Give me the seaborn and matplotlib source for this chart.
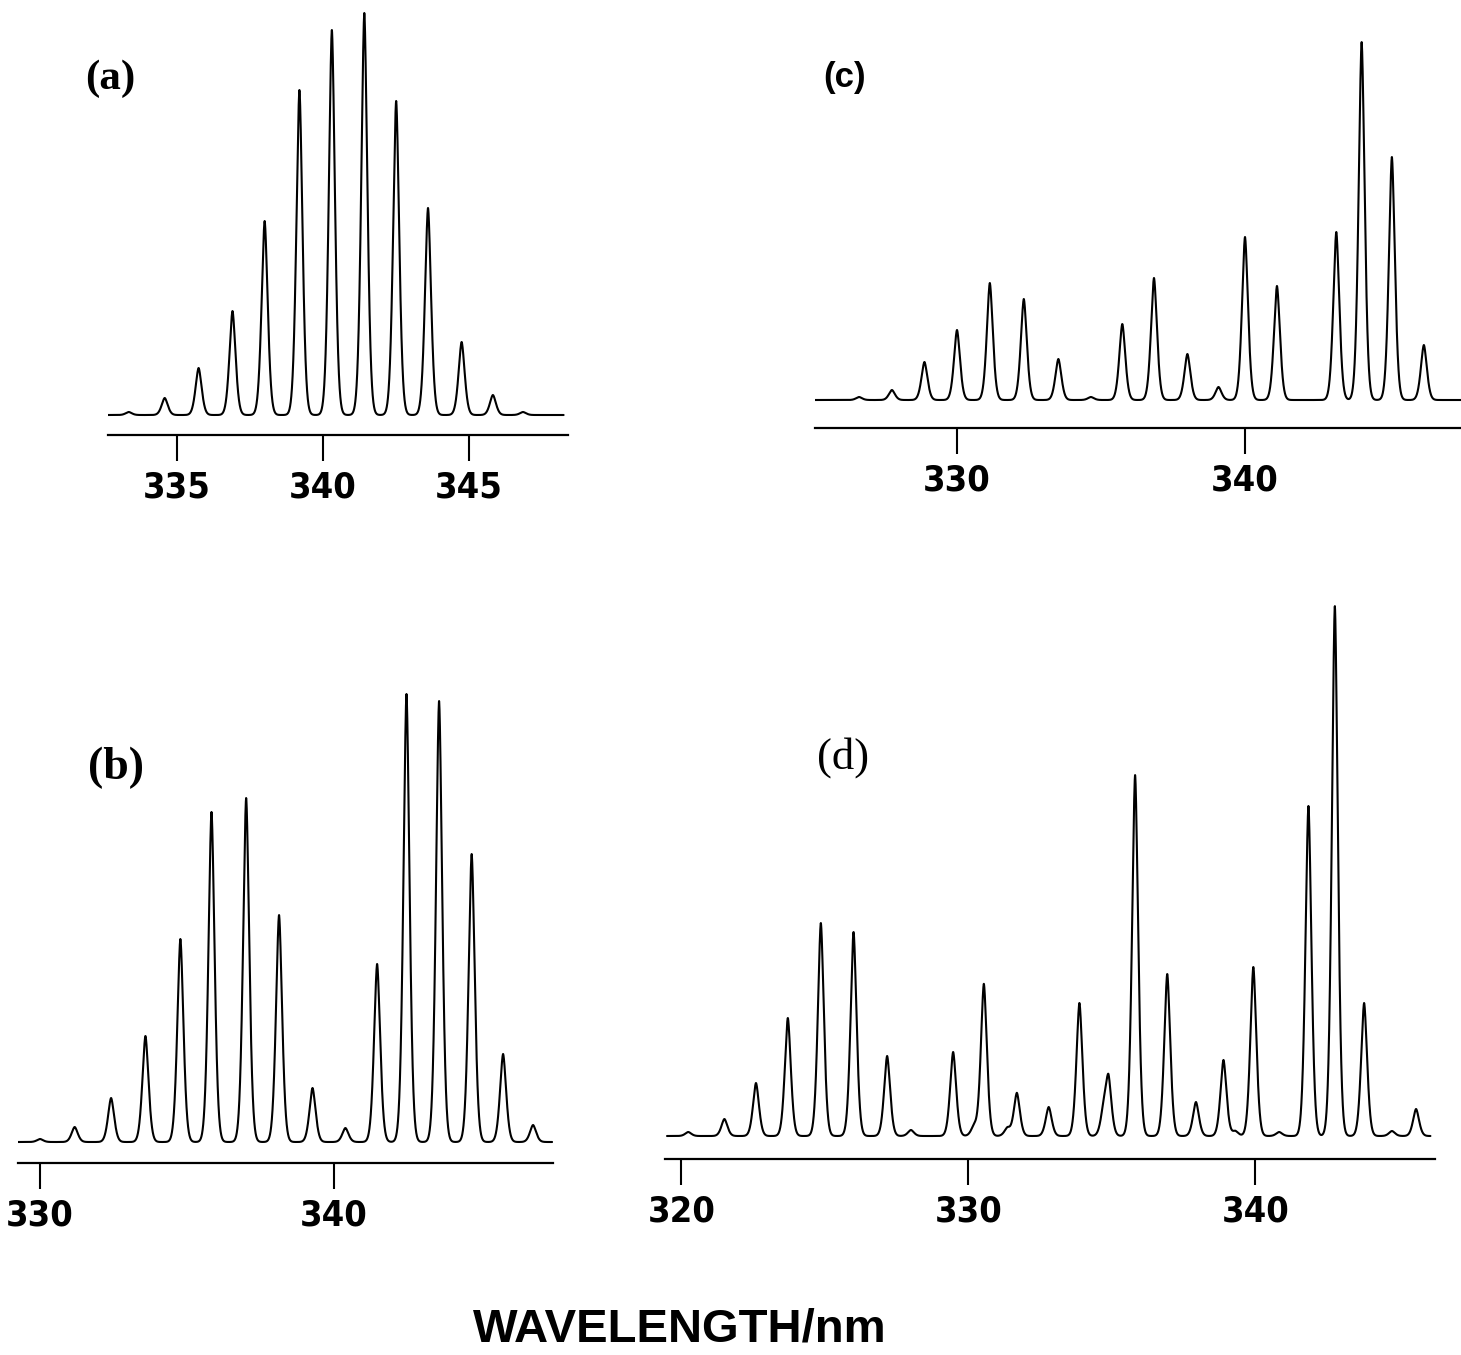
import numpy as np
import pandas as pd
import matplotlib
matplotlib.use("Agg")
import matplotlib.pyplot as plt
import matplotlib.font_manager as fm
import seaborn as sns

# ---------------- data ----------------
# panel (a)
a_centers = [333.36, 334.59, 335.75, 336.91, 338.01, 339.20, 340.31, 341.42,
             342.51, 343.60, 344.75, 345.82, 346.85]
a_heights = [3, 17, 47, 104, 194, 325, 385, 402, 314, 207, 73, 20, 3]
a_span = [332.65, 348.24]
a_xlim = [332.65, 348.39]
a_ticks = [335, 340, 345]

# panel (b)
b_centers = [330.00, 331.18, 332.42, 333.59, 334.78, 335.84, 337.02, 338.14,
             339.28, 340.40, 341.48, 342.48, 343.59, 344.70, 345.77, 346.79]
b_heights = [3, 15, 44, 106, 203, 330, 344, 227, 54, 14, 178, 448, 441, 288, 88, 17]
b_span = [329.20, 347.44]
b_xlim = [329.25, 347.47]
b_ticks = [330, 340]

# panel (c)
c_centers = [326.60, 327.74, 328.87, 330.00, 331.14, 332.32, 333.52, 334.65,
             335.74, 336.84, 338.00, 339.08, 340.00, 341.11, 343.17, 344.05,
             345.10, 346.21]
c_heights = [3, 10, 38, 70, 117, 101, 41, 3, 76, 122, 46, 13, 163, 114, 168, 358, 243, 55]
c_span = [325.00, 347.50]
c_xlim = [325.07, 347.50]
c_ticks = [330, 340]

# panel (d)
d_centers = [320.24, 321.50, 322.60, 323.71, 324.86, 326.00, 327.17, 328.00,
             329.47, 330.20, 330.54, 331.36, 331.69, 332.80, 333.87, 334.70,
             334.88, 335.81, 336.93, 337.93, 339.30, 338.89, 339.93, 340.83,
             341.85, 342.77, 343.79, 344.76, 345.60]
d_heights = [4, 17, 53, 118, 213, 204, 80, 6, 84, 10, 152, 8, 43, 29, 133, 20,
             57, 361, 162, 34, 5, 76, 169, 4, 330, 530, 133, 5, 27]
d_span = [319.50, 346.10]
d_xlim = [319.43, 346.26]
d_ticks = [320, 330, 340]

panel_labels = ["(a)", "(b)", "(c)", "(d)"]
x_title = "WAVELENGTH/nm"

# ---------------- styling / layout ----------------
sns.set_style("white")
plt.rcParams["font.family"] = ["Liberation Sans", "DejaVu Sans"]
plt.rcParams["text.color"] = "black"
plt.rcParams["xtick.color"] = "black"


def pick_condensed_bold():
    """Find a narrow/condensed bold sans font file if one is installed."""
    prefs = ["liberation sans narrow", "dejavu sans", "roboto condensed",
             "open sans condensed", "noto sans"]
    found = []
    for f in fm.fontManager.ttflist:
        name = f.name.lower()
        fn = f.fname.lower()
        narrow = ("narrow" in name or "condensed" in name or "narrow" in fn
                  or "condensed" in fn or str(f.stretch) in
                  ("condensed", "semi-condensed", "extra-condensed"))
        w = f.weight
        bold = ("bold" in fn and "semibold" not in fn) or w in ("bold", 700)
        if narrow and bold and "oblique" not in fn and "italic" not in fn:
            rank = len(prefs)
            for i, p in enumerate(prefs):
                if name.startswith(p):
                    rank = i
                    break
            found.append((rank, f.fname))
    if found:
        found.sort()
        return fm.FontProperties(fname=found[0][1], size=26)
    return fm.FontProperties(family=["Liberation Sans", "DejaVu Sans"],
                             weight="bold", size=23)


tick_fp = pick_condensed_bold()

W, H = 1461, 1355
fig = plt.figure(figsize=(W / 100, H / 100), dpi=100)


def box(left, right, top, bottom):
    return [left / W, 1 - bottom / H, (right - left) / W, (bottom - top) / H]


def spectrum(centers, heights, span, w=0.15, p=1.7):
    x = np.linspace(span[0], span[1], 8000)
    y = np.zeros_like(x)
    for c, h in zip(centers, heights):
        y += h * np.exp(-(np.abs(x - c) / w) ** p)
    return pd.DataFrame({"wavelength": x, "intensity": y})


panels = [
    dict(c=a_centers, h=a_heights, span=a_span, xlim=a_xlim, ticks=a_ticks,
         box=box(108, 568, 0, 435), ylim=(-20, 415)),
    dict(c=b_centers, h=b_heights, span=b_span, xlim=b_xlim, ticks=b_ticks,
         box=box(18, 553, 660, 1163), ylim=(-21, 482)),
    dict(c=c_centers, h=c_heights, span=c_span, xlim=c_xlim, ticks=c_ticks,
         box=box(815, 1461, 0, 428), ylim=(-28, 400)),
    dict(c=d_centers, h=d_heights, span=d_span, xlim=d_xlim, ticks=d_ticks,
         box=box(665, 1435, 580, 1159), ylim=(-23, 556)),
]

for p in panels:
    ax = fig.add_axes(p["box"])
    ax.patch.set_alpha(0)
    df = spectrum(p["c"], p["h"], p["span"])
    sns.lineplot(data=df, x="wavelength", y="intensity", ax=ax,
                 color="black", linewidth=1.5, estimator=None, sort=False)
    ax.set_xlim(*p["xlim"])
    ax.set_ylim(*p["ylim"])
    ax.set_yticks([])
    ax.set_xticks(p["ticks"])
    ax.set_xticklabels([str(t) for t in p["ticks"]])
    ax.set_xlabel("")
    ax.set_ylabel("")
    for s in ["left", "right", "top"]:
        ax.spines[s].set_visible(False)
    ax.spines["bottom"].set_linewidth(1.6)
    ax.spines["bottom"].set_color("black")
    ax.tick_params(axis="x", direction="out", length=18.5, width=1.5,
                   pad=7, colors="black", bottom=True)
    for lbl in ax.get_xticklabels():
        lbl.set_fontproperties(tick_fp)
        lbl.set_color("black")

# panel letters
serif = ["Liberation Serif", "DejaVu Serif"]
sans = ["Liberation Sans", "DejaVu Sans"]
fig.text(110 / W, 1 - 79 / H, panel_labels[0], ha="center", va="center",
         fontsize=31, fontweight="bold", family=serif, color="black")
fig.text(116 / W, 1 - 768 / H, panel_labels[1], ha="center", va="center",
         fontsize=33, fontweight="bold", family=serif, color="black")
fig.text(845 / W, 1 - 78 / H, panel_labels[2], ha="center", va="center",
         fontsize=25, fontweight="bold", family=sans, color="black")
fig.text(843 / W, 1 - 758 / H, panel_labels[3], ha="center", va="center",
         fontsize=32, family=serif, color="black")

fig.text(680 / W, 1 - 1330 / H, x_title, ha="center", va="center",
         fontsize=34, fontweight="bold", family=sans, color="black")

fig.savefig("out.png", dpi=100, facecolor="white")
